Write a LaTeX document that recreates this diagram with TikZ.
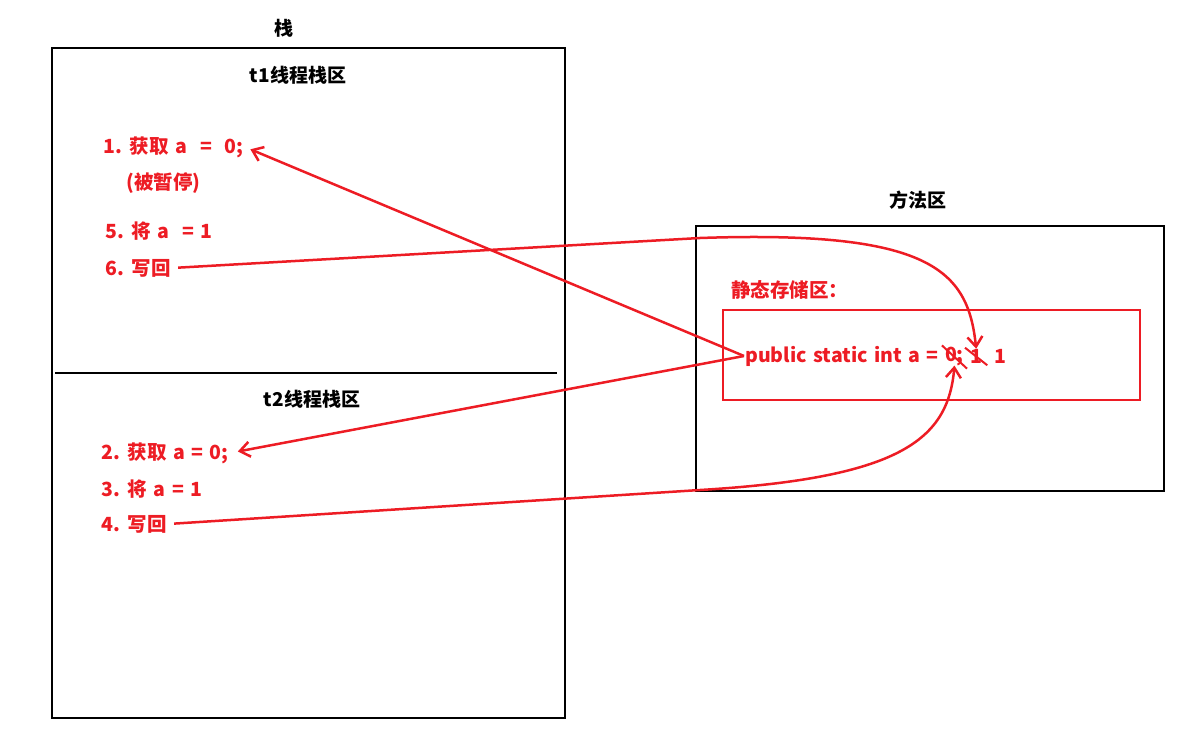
\documentclass[tikz,border=0pt]{standalone}
\usepackage{fontspec}
\usepackage{xcolor}
\setmainfont{Noto Sans CJK SC}[WordSpace=1.45]
\usetikzlibrary{arrows.meta,calc,positioning}

\definecolor{mred}{RGB}{237,28,36}

\tikzset{
  title/.style={font=\fontsize{19}{22}\selectfont\bfseries, text=black, inner sep=0pt},
  stepnote/.style={font=\fontsize{19.5}{22}\selectfont\bfseries, text=mred, inner sep=1pt, anchor=west},
  redline/.style={draw=mred, line width=2.5pt},
  redarrow/.style={redline, -{Straight Barb[length=10pt,width=15pt,line width=2.5pt]}}
}

\begin{document}
\begin{tikzpicture}[x=1pt,y=-1pt]
  \useasboundingbox (0,0) rectangle (1184,741);

  % stack
  \draw[line width=2.5pt] (52,48) rectangle (565,718);
  \draw[line width=2.5pt] (55,373) -- (557,373);
  \node[title] (stack) at (284,28) {栈};
  \node[title] (t1) at (298,75) {t1线程栈区};
  \node[title] (t2) at (312,399) {t2线程栈区};

  \node[stepnote] (s1) at (102,147) {1. 获取 a \ = \ 0;};
  \node[stepnote] (pause) at (125,183) {(被暂停)};
  \node[stepnote] (s5) at (104,231) {5. 将 a \ = 1};
  \node[stepnote] (s6) at (104,268) {6. 写回};
  \node[stepnote] (s2) at (100,453) {2. 获取 a = 0;};
  \node[stepnote] (s3) at (100,489) {3. 将 a = 1};
  \node[stepnote] (s4) at (100,524) {4. 写回};

  % method area
  \draw[line width=2.5pt] (696,226) rectangle (1164,491);
  \node[title] (method) at (918,200) {方法区};
  \draw[redline] (723,310) rectangle (1140,400);
  \node[stepnote] (store) at (730,290) {静态存储区：};

  \node[stepnote] (pub) at (744,356) {public static int a =};
  \node[stepnote, right=5pt of pub, inner sep=0pt] (zero) {0;};
  \node[stepnote, right=6pt of zero, inner sep=0pt] (one) {1};
  \node[stepnote, right=12pt of one, inner sep=0pt] (onefin) {1};
  \draw[draw=mred, line width=2pt] ($(zero.north west)+(-3,-1)$) -- ($(zero.south east)+(3,3)$);
  \draw[draw=mred, line width=2pt] ($(one.north west)+(-5,-1)$) -- ($(one.south east)+(5,2)$);

  % reads and writes
  \draw[redarrow, shorten >=6pt] (pub.west) -- (s1.east);
  \draw[redarrow, shorten >=8pt] (pub.west) -- (s2.east);
  \draw[redarrow, shorten <=6pt] (s6.east) -- (700,238)
    .. controls (930,230) and (968,270) .. (one.north);
  \draw[redarrow, shorten <=6pt] (s4.east) -- (700,490)
    .. controls (900,478) and (948,440) .. (zero.south);
\end{tikzpicture}
\end{document}
